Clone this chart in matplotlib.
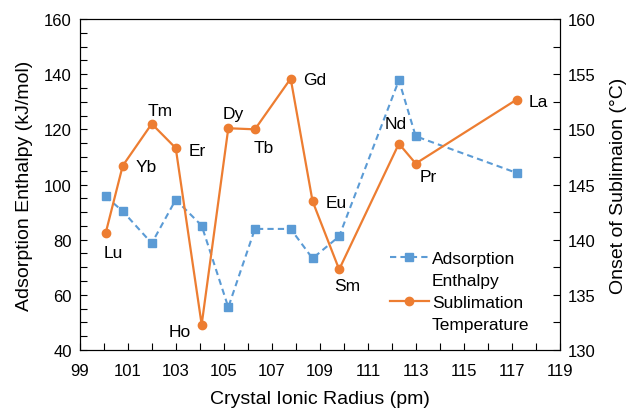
import matplotlib.pyplot as plt
from matplotlib.lines import Line2D
from matplotlib.ticker import MultipleLocator

plt.rcParams['font.family'] = ['Liberation Sans', 'DejaVu Sans']

# data
elements = ['Lu', 'Yb', 'Tm', 'Er', 'Ho', 'Dy', 'Tb', 'Gd', 'Eu', 'Sm', 'Nd', 'Pr', 'La']
radius = [100.07, 100.78, 101.99, 102.99, 104.07, 105.18, 106.29, 107.78, 108.69, 109.8, 112.29, 112.99, 117.2]
enthalpy = [95.7, 90.3, 78.7, 94.5, 85.1, 55.5, 83.9, 83.9, 73.2, 81.2, 137.8, 117.5, 104.2]
sublimation = [140.6, 146.7, 150.5, 148.3, 132.3, 150.1, 150.0, 154.6, 143.5, 137.3, 148.7, 146.9, 152.7]
xticks = list(range(99, 120, 2))

# where each element name sits relative to its point (pixels)
offsets = [(8, -19), (24, -1), (8, 13), (22, -2), (-22, -7), (5, 15), (9, -18),
           (24, -1), (24, -1), (8, -16), (-3, 20), (13, -13), (22, -1.5)]

blue = '#5B9BD5'
orange = '#ED7D31'

fig = plt.figure(figsize=(6.27, 4.10), dpi=100)
ax = fig.add_axes([0.1276, 0.1439, 0.7654, 0.8073])
ax2 = ax.twinx()

l1, = ax.plot(radius, enthalpy, color=blue, ls='--', lw=1.5, marker='s', ms=6,
              dashes=(3, 2))
l2, = ax2.plot(radius, sublimation, color=orange, lw=1.6, marker='o', ms=6)

for name, x, y, off in zip(elements, radius, sublimation, offsets):
    ax2.annotate(name, (x, y), xytext=off, textcoords='offset pixels',
                 fontsize=12.5, ha='center', va='center')

ax.set_xlim(99, 119)
ax.set_ylim(40, 160)
ax2.set_ylim(130, 160)
ax.set_xticks(xticks)
ax.xaxis.set_minor_locator(MultipleLocator(1))
ax.yaxis.set_major_locator(MultipleLocator(20))
ax.yaxis.set_minor_locator(MultipleLocator(5))
ax2.yaxis.set_major_locator(MultipleLocator(5))
ax2.yaxis.set_minor_locator(MultipleLocator(2.5))

for a in (ax, ax2):
    a.tick_params(which='both', direction='in', labelsize=12, width=0.8, length=5, pad=6)
ax.tick_params(axis='x', which='both', top=False, pad=9)

ax.set_xlabel('Crystal Ionic Radius (pm)', fontsize=14, labelpad=9)
ax.set_ylabel('Adsorption Enthalpy (kJ/mol)', fontsize=14, labelpad=8)
ax2.set_ylabel('Onset of Sublimaion (°C)', fontsize=14, labelpad=10)

blank = Line2D([], [], color='none')
ax.legend(handles=[l1, blank, l2, blank],
          labels=['Adsorption', 'Enthalpy', 'Sublimation', 'Temperature'],
          loc='upper left', bbox_to_anchor=(0.645, 0.30), frameon=False,
          fontsize=12.5, handlelength=2.25, labelspacing=0.4, handletextpad=0.2,
          borderpad=0, borderaxespad=0)

fig.savefig('out.png', dpi=100)
